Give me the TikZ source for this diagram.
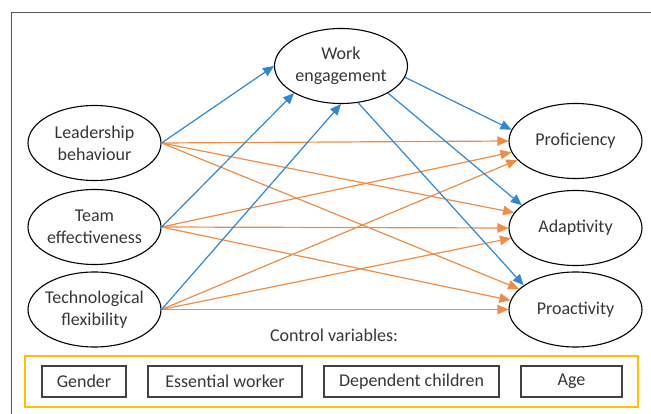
\documentclass[tikz,border=0pt]{standalone}
\usepackage{fontspec}
\setmainfont{Carlito}
\usetikzlibrary{shapes.geometric,arrows.meta}
\definecolor{txt}{HTML}{363636}
\definecolor{bluec}{HTML}{2F88CF}
\definecolor{orangec}{HTML}{EE8D48}
\definecolor{goldc}{HTML}{FFC000}
\definecolor{framec}{HTML}{555555}
\definecolor{boxc}{HTML}{404040}
\tikzset{
  var/.style={ellipse, draw=black, line width=1.1pt, minimum width=133pt, minimum height=75pt, inner sep=0pt},
  vtext/.style={align=center, text=txt, font=\fontsize{18}{21.7}\selectfont},
  ctrl/.style={draw=boxc, line width=1.3pt, minimum height=31pt, inner sep=0pt, text=txt, font=\fontsize{18}{21.7}\selectfont},
  barrow/.style={draw=bluec, line width=1.2pt, -{Triangle[length=11pt,width=9.5pt]}},
  oarrow/.style={draw=orangec, line width=1.2pt, -{Triangle[length=11pt,width=9.5pt]}},
}
\begin{document}
\begin{tikzpicture}[x=1pt,y=-1pt]
\useasboundingbox (0,0) rectangle (651,414);
% outer frame (partially visible)
\draw[framec, line width=1pt] (11,414) -- (11,13) -- (651,13);

% ellipses
\node[var, label={[vtext]center:Work\\engagement}] (WE) at (341,66) {};
\node[var, label={[vtext]center:Leadership\\behaviour}] (LB) at (94.5,143) {};
\node[var, label={[vtext]center:Team\\effectiveness}] (TE) at (94.5,227) {};
\node[var, label={[vtext]center:Technological\\flexibility}] (TF) at (94.5,309.5) {};
\node[var, label={[vtext]center:Proficiency}] (PF) at (575.5,141) {};
\node[var, label={[vtext]center:Adaptivity}] (AD) at (575.5,228) {};
\node[var, label={[vtext]center:Proactivity}] (PA) at (575.5,309.5) {};

% orange arrows
\draw[oarrow] (LB.east) -- (PF.west);
\draw[oarrow] (LB.east) -- (AD.166);
\draw[oarrow] (LB.east) -- (PA.160);
\draw[oarrow] (TE.east) -- (PF.190);
\draw[oarrow] (TE.east) -- (AD.west);
\draw[oarrow] (TE.east) -- (PA.172);
\draw[oarrow] (TF.east) -- (PF.198);
\draw[oarrow] (TF.east) -- (AD.189);
\draw[oarrow] (TF.east) -- (PA.west);

% blue arrows
\draw[barrow] (LB.east) -- (WE.west);
\draw[barrow] (TE.east) -- (WE.210);
\draw[barrow] (TF.east) -- (WE.south);
\draw[barrow] (WE.350) -- (PF.170);
\draw[barrow] (WE.330) -- (AD.157);
\draw[barrow] (WE.295) -- (PA.155);

% control variables
\node[vtext] (CV) at (334,335) {Control variables:};
\node[draw=goldc, line width=1.8pt, minimum width=613pt, minimum height=51pt, inner sep=0pt] (CB) at (331.5,381.5) {};
\node[ctrl, minimum width=84pt] (G) at (84,381.5) {Gender};
\node[ctrl, minimum width=154pt] (EW) at (225,381.5) {Essential worker};
\node[ctrl, minimum width=175pt] (DC) at (411.5,381.5) {Dependent children};
\node[ctrl, minimum width=101pt] (AG) at (571.5,381.5) {Age};
\end{tikzpicture}
\end{document}
